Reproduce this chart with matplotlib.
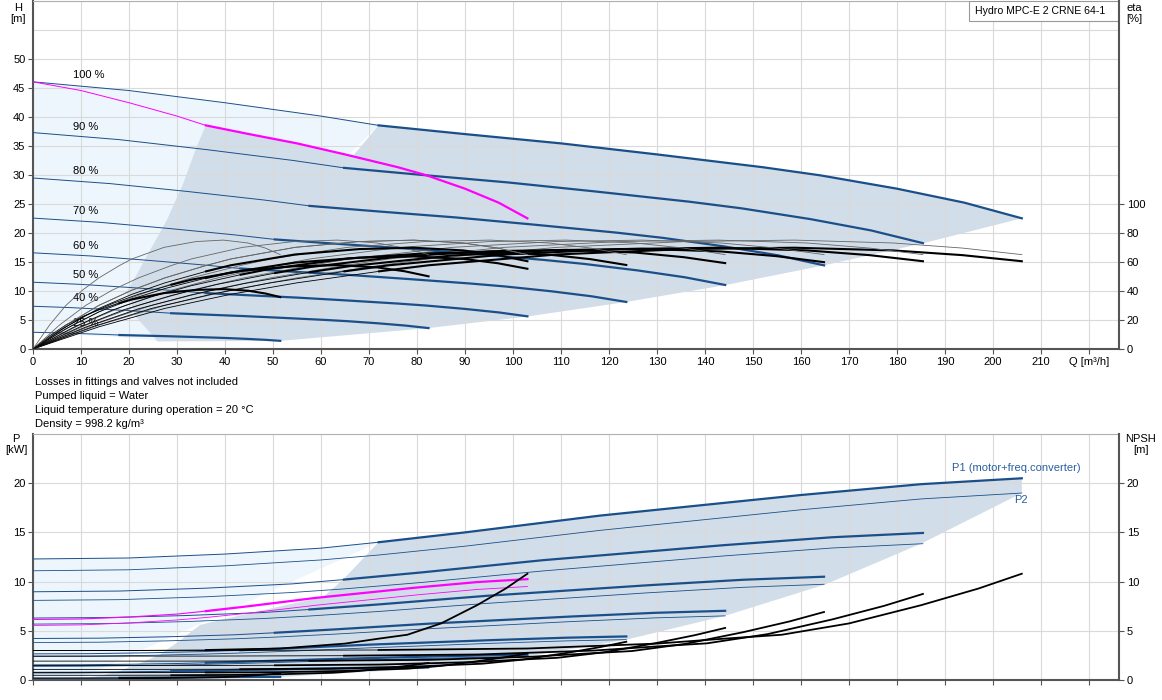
import numpy as np
import matplotlib
matplotlib.use("Agg")
import matplotlib.pyplot as plt
from matplotlib.patches import Polygon, Rectangle

plt.rcParams['font.family'] = ['Liberation Sans', 'DejaVu Sans']
plt.rcParams['font.size'] = 8

# speeds shown in the chart
speeds = np.array([1.0, 0.9, 0.8, 0.7, 0.6, 0.5, 0.4, 0.25])
speed_labels = ["100 %", "90 %", "80 %", "70 %", "60 %", "50 %", "40 %", "25 %"]
label_h = [47.2, 38.3, 30.6, 23.7, 17.7, 12.7, 8.8, 4.5]

# one pump at 100 % speed: Q [m3/h], H [m]
q1 = np.array([0, 10, 20, 30, 36, 45, 55, 65, 76, 82, 90, 97, 103])
h1 = np.array([46.0, 44.5, 42.4, 40.1, 38.5, 37.0, 35.4, 33.5, 31.3, 29.9, 27.6, 25.2, 22.5])

# efficiency shape vs fraction of max flow (pump only) and total factor per speed
eta_x = np.array([0, 0.067, 0.133, 0.2, 0.267, 0.35, 0.40, 0.53, 0.66, 0.77, 0.87, 0.94, 1.0])
eta_pump = np.array([0, 16.5, 30, 40.5, 49, 57.5, 62, 70, 74, 75, 73, 69.5, 65])
eta_k = [0.93, 0.93, 0.92, 0.91, 0.89, 0.85, 0.77, 0.55]

# two pumps at 100 % speed: power P1 / P2 [kW]
qp = np.array([0, 20, 40, 60, 72, 90, 118, 140, 160, 185, 206])
p1 = np.array([12.3, 12.4, 12.8, 13.4, 14.0, 15.0, 16.7, 17.8, 18.8, 19.9, 20.5])
p2 = np.array([11.1, 11.2, 11.6, 12.2, 12.7, 13.6, 15.2, 16.3, 17.3, 18.4, 19.0])

# one pump at 100 % speed: NPSH [m]
qn = np.array([0, 20, 36, 51.5, 65, 72, 78, 85, 92.5, 98.5, 103])
nn = np.array([3.0, 3.0, 3.05, 3.2, 3.7, 4.2, 4.6, 5.75, 7.6, 9.3, 10.8])

# operating area outlines
top_left_edge = [(26.0, 1.3), (21.5, 5.5), (19.5, 9.8), (21.6, 12.8), (24.4, 17.0),
                 (27.9, 22.2), (31.3, 28.5), (34.1, 34.8)]
top_bottom_edge = [(185.4, 18.2), (164.8, 14.4), (144.2, 11.0), (123.6, 8.1),
                   (103, 5.6), (82.4, 3.6), (51.5, 1.4)]
bot_left_edge = [(9, 0.1), (14.4, 0.45), (18, 0.9), (22.3, 1.7), (26.5, 2.6), (30.6, 4.0),
                 (34.8, 5.6), (41.7, 6.4), (53.5, 7.7), (60.4, 8.4), (64.6, 10.2)]
bot_bottom_edge = [(206, 19.0), (185, 13.85), (165, 9.7), (144, 6.5), (123.6, 4.1),
                   (103, 2.4), (82.4, 1.2), (51.5, 0.3), (25.75, 0.15)]

blue = '#1b4f8a'
mag = '#ff00ff'
fill_dark = '#d1dde8'
fill_light = '#edf5fd'
grid_c = '#dadada'
spine_c = '#555555'

fig = plt.figure(figsize=(11.62, 7.0), dpi=100)
ax = fig.add_axes([33/1162, 1-349/700, 1086/1162, 348.5/700])
axb = fig.add_axes([33/1162, 1-680/700, 1086/1162, 246/700])

for a in (ax, axb):
    a.set_xlim(0, 226.25)
    a.set_axisbelow('line')
    a.grid(True, color=grid_c, lw=0.8)
    a.spines['left'].set_color(spine_c)
    a.spines['left'].set_linewidth(1.5)
    a.spines['bottom'].set_color(spine_c)
    a.spines['bottom'].set_linewidth(1.5)
    a.spines['top'].set_color('#b0b0b0')
    a.spines['top'].set_linewidth(0.8)
    a.spines['right'].set_visible(False)
    a.tick_params(direction='out', length=3.5, width=0.8, color=spine_c, labelsize=8, pad=2)
    a.set_xticks(range(0, 221, 10))

# ---------------- top: head / efficiency ----------------
ax.set_ylim(0, 60)
ax.set_yticks(range(0, 51, 5))
for yy in (55, 60):
    ax.axhline(yy, color=grid_c, lw=0.8, zorder=1.5)
ax.set_xticklabels([str(v) for v in range(0, 211, 10)] + ['Q [m³/h]'])

light = list(zip(2*q1[:5], h1[:5])) + [(26.0, 1.3)] + list(zip(0.25*q1[::-1], 0.0625*h1[::-1]))
ax.add_patch(Polygon(light, closed=True, fc=fill_light, ec='none', zorder=1))
dark = (top_left_edge + list(zip(q1[4:8], h1[4:8])) + [(66.5, 33.1)]
        + list(zip(2*q1[4:], h1[4:])) + top_bottom_edge)
ax.add_patch(Polygon(dark, closed=True, fc=fill_dark, ec='none', zorder=1.1))

for n in speeds:
    Q = 2*n*q1
    H = n**2*h1
    ax.plot(Q[:5], H[:5], color=blue, lw=0.7, zorder=3)
    ax.plot(Q[4:], H[4:], color=blue, lw=1.6, zorder=3)
ax.plot(q1[:5], h1[:5], color=mag, lw=0.7, zorder=3.2)
ax.plot(q1[4:], h1[4:], color=mag, lw=1.6, zorder=3.2)

for lab, yy in zip(speed_labels, label_h):
    ax.text(8.3, yy, lab, fontsize=8, va='center', ha='left', zorder=4)

ax2 = ax.twinx()
ax2.set_ylim(0, 240)
ax2.set_yticks(range(0, 101, 20))
for s in ('top', 'left', 'bottom'):
    ax2.spines[s].set_visible(False)
ax2.spines['right'].set_color(spine_c)
ax2.spines['right'].set_linewidth(1.5)
ax2.tick_params(direction='out', length=3.5, width=0.8, color=spine_c, labelsize=8, pad=2)

for n, k in zip(speeds, eta_k):
    Q = eta_x*206*n
    ax2.plot(Q, eta_pump, color='#666666', lw=0.6)
    ax2.plot(Q[:6], eta_pump[:6]*k, color='black', lw=0.6)
    ax2.plot(Q[5:], eta_pump[5:]*k, color='black', lw=1.5)
Q = eta_x*103
ax2.plot(Q, eta_pump, color='#666666', lw=0.6)
ax2.plot(Q[:6], eta_pump[:6]*0.93, color='black', lw=0.6)
ax2.plot(Q[5:], eta_pump[5:]*0.93, color='black', lw=1.5)

ax.add_patch(Rectangle((0.8619, 0.9398), 0.1381, 0.0602, transform=ax.transAxes,
                       fc='white', ec='#999999', lw=0.8, zorder=5))
ax.text(0.8674, 0.970, "Hydro MPC-E 2 CRNE 64-1", transform=ax.transAxes,
        va='center', ha='left', fontsize=7.6, zorder=6)

# ---------------- bottom: power / NPSH ----------------
axb.set_ylim(0, 25)
axb.set_yticks(range(0, 21, 5))
axb.set_xticklabels([])

lightb = list(zip(qp[:5], p1[:5])) + [(9, 0.0), (0, 0.0)]
axb.add_patch(Polygon(lightb, closed=True, fc=fill_light, ec='none', zorder=1))
darkb = bot_left_edge + list(zip(qp[4:], p1[4:])) + bot_bottom_edge
axb.add_patch(Polygon(darkb, closed=True, fc=fill_dark, ec='none', zorder=1.1))

for n in speeds:
    Q = qp*n
    axb.plot(Q[:5], p1[:5]*n**3, color=blue, lw=0.7, zorder=3)
    axb.plot(Q[4:], p1[4:]*n**3, color=blue, lw=1.6, zorder=3)
    axb.plot(Q, p2*n**3, color=blue, lw=0.6, zorder=3)
    Qn = 2*n*qn
    Nn = n**2*nn
    axb.plot(Qn[:3], Nn[:3], color='black', lw=0.6, zorder=3.1)
    axb.plot(Qn[2:], Nn[2:], color='black', lw=1.3, zorder=3.1)

axb.plot(qp[:5]/2, p1[:5]/2, color=mag, lw=0.8, zorder=3.2)
axb.plot(qp[4:]/2, p1[4:]/2, color=mag, lw=1.6, zorder=3.2)
axb.plot(qp/2, p2/2, color=mag, lw=0.6, zorder=3.2)
axb.plot(qn[:3], nn[:3], color='black', lw=0.6, zorder=3.3)
axb.plot(qn[2:], nn[2:], color='black', lw=1.3, zorder=3.3)

axb.text(191.5, 21.5, "P1 (motor+freq.converter)", color='#2a5f9e', fontsize=8,
         va='center', ha='left', zorder=5)
axb.text(204.5, 18.3, "P2", color='#2a5f9e', fontsize=8, va='center', ha='left', zorder=5)

axb2 = axb.twinx()
axb2.set_ylim(0, 25)
axb2.set_yticks(range(0, 21, 5))
for s in ('top', 'left', 'bottom'):
    axb2.spines[s].set_visible(False)
axb2.spines['right'].set_color(spine_c)
axb2.spines['right'].set_linewidth(1.5)
axb2.tick_params(direction='out', length=3.5, width=0.8, color=spine_c, labelsize=8, pad=2)

# ---------------- labels ----------------
fig.text(18/1162, 1-3/700, "H\n[m]", ha='center', va='top', fontsize=8, linespacing=1.15)
fig.text(1134/1162, 1-3/700, "eta\n[%]", ha='center', va='top', fontsize=8, linespacing=1.15)
fig.text(16/1162, 1-434/700, "P\n[kW]", ha='center', va='top', fontsize=8, linespacing=1.15)
fig.text(1141/1162, 1-434/700, "NPSH\n[m]", ha='center', va='top', fontsize=8, linespacing=1.15)

notes = ["Losses in fittings and valves not included",
         "Pumped liquid = Water",
         "Liquid temperature during operation = 20 °C",
         "Density = 998.2 kg/m³"]
for i, t in enumerate(notes):
    fig.text(35/1162, 1-(382+14*i)/700, t, ha='left', va='center', fontsize=8)

fig.savefig("out.png", dpi=100)
